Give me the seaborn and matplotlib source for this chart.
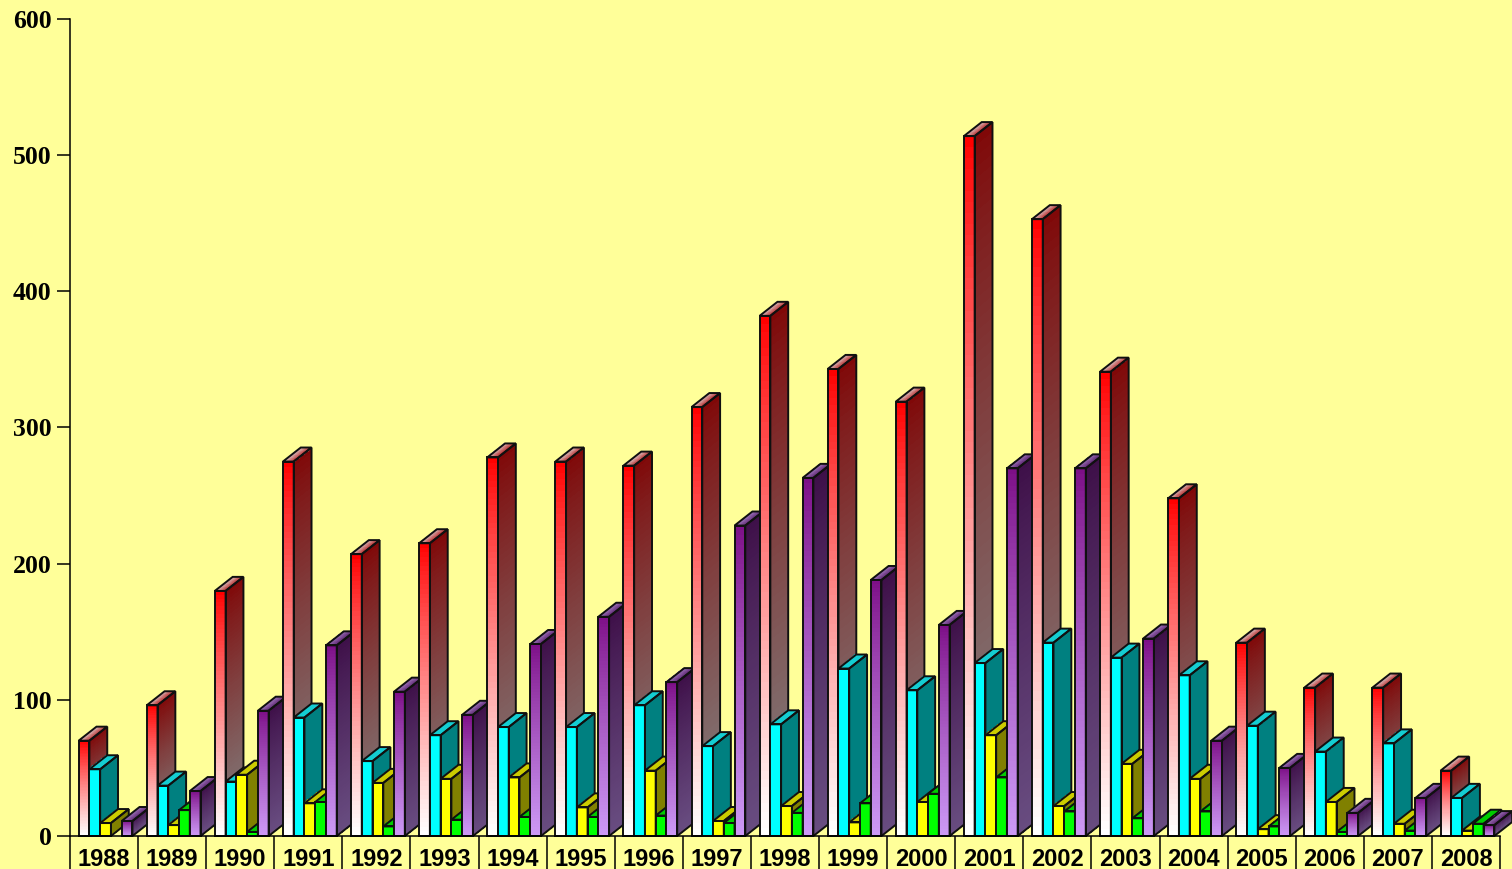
import numpy as np
import pandas as pd
import matplotlib
matplotlib.use("Agg")
import matplotlib.pyplot as plt
from matplotlib.patches import Polygon
import seaborn as sns

years = list(range(1988, 2009))
red_values = [70, 96, 180, 275, 207, 215, 278, 275, 272, 315, 382, 343, 319, 514, 453, 341, 248, 142, 109, 109, 48]
cyan_values = [49, 37, 40, 87, 55, 74, 80, 80, 96, 66, 82, 123, 107, 127, 142, 131, 118, 81, 62, 68, 28]
yellow_values = [9.5, 8, 45, 24, 39, 42, 43, 21, 48, 11, 22, 10, 25, 74, 22, 53, 42, 5, 25, 9, 4]
green_values = [0, 19, 3, 25, 7, 12, 14, 14, 15, 9.5, 17, 24, 31, 43, 18, 13, 18, 7, 3, 4, 9]
purple_values = [11, 33, 92, 140, 106, 89, 141, 161, 113, 228, 263, 188, 155, 270, 270, 145, 70, 50, 17, 28, 8]

series_names = ["red", "cyan", "yellow", "green", "purple"]
series_values = [red_values, cyan_values, yellow_values, green_values, purple_values]

BACKGROUND = "#ffff99"
# front (top, bottom), side (top, bottom), cap (left, right), RGB in 0-255
STYLE = {
    "red": (((255, 0, 0), (255, 255, 255)), ((128, 8, 8), (128, 128, 128)), ((218, 198, 198), (190, 60, 60))),
    "cyan": (((0, 255, 255), (0, 255, 255)), ((0, 128, 128), (0, 128, 128)), ((20, 205, 210), (20, 205, 210))),
    "yellow": (((255, 255, 0), (255, 255, 0)), ((128, 128, 0), (128, 128, 0)), ((204, 204, 0), (204, 204, 0))),
    "green": (((0, 255, 0), (0, 255, 0)), ((0, 128, 0), (0, 128, 0)), ((0, 204, 0), (0, 204, 0))),
    "purple": (((125, 15, 135), (204, 153, 245)), ((62, 15, 72), (104, 76, 128)), ((160, 120, 190), (100, 45, 120))),
}
DEPTH_X = 0.262   # receding offset, years
DEPTH_Y = 10.3    # receding offset, value units
BAR_SHIFT = 0.022 # nudge of each cluster inside its year slot
OUTLINE = 1.4
EDGE = "#101010"

sns.set_theme(style="white", rc={"axes.facecolor": BACKGROUND, "figure.facecolor": BACKGROUND})

W, H = 1512, 869
fig = plt.figure(figsize=(W / 100, H / 100), dpi=100)
ax = fig.add_axes([70 / W, (H - 836) / H, 1430 / W, 817 / H])

table = pd.DataFrame({
    "year": np.tile(years, len(series_names)),
    "series": np.repeat(series_names, len(years)),
    "value": np.concatenate(series_values),
})
sns.barplot(
    data=table, x="year", y="value", hue="series", hue_order=series_names,
    palette=[tuple(c / 255 for c in STYLE[n][0][0]) for n in series_names],
    width=0.79, gap=0, legend=False, ax=ax, native_scale=True,
    edgecolor=EDGE, linewidth=OUTLINE, saturation=1,
)


def ramp(start, end, n, power=1.0):
    t = np.linspace(0, 1, n)[:, None] ** power
    return np.clip((np.array(start) * (1 - t) + np.array(end) * t) / 255, 0, 1)


def shade(xs, ys, colors, z):
    return ax.pcolormesh(xs, ys, colors, shading="flat", antialiased=False,
                         edgecolors="none", zorder=z, clip_on=False)


# Extrude the bars laid out by seaborn, left to right so nearer bars overlap.
bars = sorted(ax.patches, key=lambda p: p.get_x())

for order, bar in enumerate(bars):
    centre = bar.get_x() + bar.get_width() / 2
    s = int(round((centre - round(centre)) / bar.get_width())) + 2
    name = series_names[s]
    h = bar.get_height()
    z = 3 + order * 0.01
    if h <= 0:
        bar.set_visible(False)
        continue
    bar.set_x(bar.get_x() + BAR_SHIFT)
    x0 = bar.get_x()
    w = bar.get_width()
    x1 = x0 + w
    front, side, cap = STYLE[name]
    n = 64

    # side wall, sheared upward
    ys = np.linspace(h, 0, n + 1)
    sx = np.column_stack([np.full(n + 1, x1), np.full(n + 1, x1 + DEPTH_X)])
    sy = np.column_stack([ys, ys + DEPTH_Y])
    shade(sx, sy, ramp(side[0], side[1], n, 0.85)[:, None, :], z)

    # cap, shaded from front-left to back-right
    m = 24
    frac = np.linspace(0, 1, m + 1)
    cx = np.column_stack([x0 + w * frac, x0 + DEPTH_X + w * frac]).T
    cy = np.column_stack([np.full(m + 1, h), np.full(m + 1, h + DEPTH_Y)]).T
    shade(cx, cy, ramp(cap[0], cap[1], m)[None, :, :], z)

    # front face with vertical gradient, outlined by the seaborn bar
    shade(np.array([x0, x1]), ys[::-1], ramp(front[0], front[1], n, 0.85)[::-1, None, :], z + 0.001)
    bar.set_facecolor("none")
    bar.set_edgecolor(EDGE)
    bar.set_linewidth(OUTLINE)
    bar.set_zorder(z + 0.002)
    bar.set_clip_on(False)

    for pts in (
        [(x1, 0), (x1 + DEPTH_X, DEPTH_Y), (x1 + DEPTH_X, h + DEPTH_Y), (x1, h)],
        [(x0, h), (x0 + DEPTH_X, h + DEPTH_Y), (x1 + DEPTH_X, h + DEPTH_Y), (x1, h)],
    ):
        ax.add_patch(Polygon(pts, closed=True, fill=False, edgecolor=EDGE,
                             linewidth=OUTLINE, joinstyle="miter", zorder=z + 0.0015, clip_on=False))

ax.set_xlim(years[0] - 0.5, years[-1] + 0.5)
ax.set_ylim(0, 600)
ax.set_xlabel("")
ax.set_ylabel("")
ax.grid(False)

for spine in ("top", "right"):
    ax.spines[spine].set_visible(False)
for spine in ("left", "bottom"):
    ax.spines[spine].set_color("black")
    ax.spines[spine].set_linewidth(1.1)
    ax.spines[spine].set_zorder(10)

ax.set_yticks([0, 100, 200, 300, 400, 500, 600])
ax.tick_params(axis="y", left=True, length=9.4, width=1.1, color="black", pad=4)
for label in ax.get_yticklabels():
    label.set(family="Liberation Serif", fontweight="bold", fontsize=18.5, color="black")

ax.set_xticks(years)
ax.set_xticklabels([str(y) for y in years])
ax.set_xticks(np.arange(years[0] - 0.5, years[-1] + 1), minor=True)
ax.tick_params(axis="x", which="major", bottom=False, length=0, pad=8.5)
ax.tick_params(axis="x", which="minor", bottom=True, length=24, width=1.1, color="black")
for label in ax.get_xticklabels():
    label.set(family="Liberation Sans", fontweight="bold", fontsize=17, color="black")

fig.savefig("out.png", dpi=100, facecolor=BACKGROUND)
